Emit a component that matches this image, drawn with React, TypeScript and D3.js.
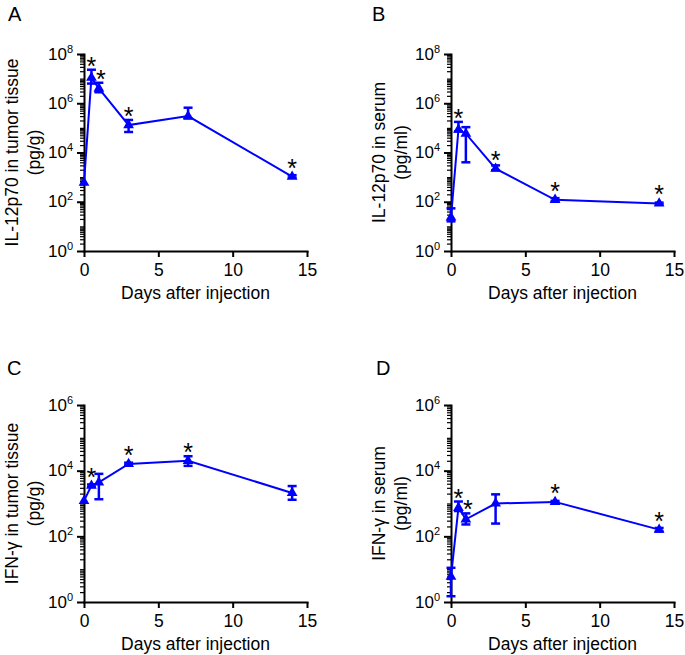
import React, { useRef, useEffect } from 'react';
import * as d3 from 'd3';

// sampling days (x values shared by all four panels)
const days = [0, 0.5, 1, 3, 7, 14];
const xTicks = [0, 5, 10, 15];

// A: IL-12p70 in tumor tissue (pg/g)
const il12TumorMean = [600, 1.1e7, 4.0e6, 1.3e5, 3.0e5, 1.05e3];
const il12TumorHi = [600, 2.3e7, 6.8e6, 2.1e5, 6.6e5, 1.2e3];
const il12TumorLo = [600, 6.3e6, 2.8e6, 6.8e4, 2.4e5, 0.95e3];
const il12TumorSig = [false, true, true, true, false, true];

// B: IL-12p70 in serum (pg/ml)
const il12SerumMean = [23, 8.5e4, 5.8e4, 2.2e3, 120, 85];
const il12SerumHi = [54, 1.75e5, 1.07e5, 3.0e3, 140, 92];
const il12SerumLo = [16, 7.2e4, 4.0e3, 1.9e3, 105, 78];
const il12SerumSig = [false, true, false, true, true, true];

// C: IFN-γ in tumor tissue (pg/g)
const ifnTumorMean = [1.2e3, 3.5e3, 4.4e3, 1.6e4, 2.0e4, 2.1e3];
const ifnTumorHi = [1.2e3, 3.8e3, 8.0e3, 1.75e4, 2.75e4, 3.4e3];
const ifnTumorLo = [1.2e3, 3.2e3, 1.35e3, 1.45e4, 1.4e4, 1.3e3];
const ifnTumorSig = [false, true, false, true, true, false];

// D: IFN-γ in serum (pg/ml)
const ifnSerumMean = [5.9, 740, 330, 1000, 1120, 160];
const ifnSerumHi = [11, 1150, 500, 1900, 1200, 180];
const ifnSerumLo = [1.5, 590, 230, 245, 1050, 140];
const ifnSerumSig = [false, true, true, false, true, true];

const panels = [
  { letter: 'A', title: ['IL-12p70 in tumor tissue', '(pg/g)'], mean: il12TumorMean, hi: il12TumorHi, lo: il12TumorLo, sig: il12TumorSig, maxExp: 8, left: 84, top: 54, lx: 8, ly: 21 },
  { letter: 'B', title: ['IL-12p70 in serum', '(pg/ml)'], mean: il12SerumMean, hi: il12SerumHi, lo: il12SerumLo, sig: il12SerumSig, maxExp: 8, left: 451, top: 54, lx: 372, ly: 21 },
  { letter: 'C', title: ['IFN-γ in tumor tissue', '(pg/g)'], mean: ifnTumorMean, hi: ifnTumorHi, lo: ifnTumorLo, sig: ifnTumorSig, maxExp: 6, left: 84, top: 405, lx: 7, ly: 375 },
  { letter: 'D', title: ['IFN-γ in serum', '(pg/ml)'], mean: ifnSerumMean, hi: ifnSerumHi, lo: ifnSerumLo, sig: ifnSerumSig, maxExp: 6, left: 451, top: 405, lx: 376, ly: 375 },
];

const W = 223;
const H = 197;
const BLUE = '#0000ff';
const FONT = '"Liberation Sans", Arial, Helvetica, sans-serif';

const App: React.FC = () => {
  const svgRef = useRef<SVGSVGElement | null>(null);

  useEffect(() => {
    if (!svgRef.current) return;
    const svg = d3.select(svgRef.current);
    svg.selectAll('*').remove();

    panels.forEach((p) => {
      // panel letter
      svg.append('text')
        .attr('x', p.lx)
        .attr('y', p.ly)
        .attr('font-family', FONT)
        .attr('font-size', '20px')
        .attr('fill', '#000')
        .text(p.letter);

      const g = svg.append('g').attr('transform', `translate(${p.left},${p.top})`);

      const x = d3.scaleLinear().domain([0, 15]).range([0, W]);
      const y = d3.scaleLog().domain([1, Math.pow(10, p.maxExp)]).range([H, 0]);

      // minor log ticks
      const minor: number[] = [];
      for (let e = 0; e < p.maxExp; e++) {
        for (let m = 1; m <= 9; m++) {
          if (m === 1 && e % 2 === 0) continue;
          minor.push(m * Math.pow(10, e));
        }
      }
      const majors = d3.range(0, p.maxExp + 1, 2).map((e) => Math.pow(10, e));

      g.append('g')
        .call(d3.axisLeft(y).tickValues(minor).tickSize(4).tickFormat(() => ''))
        .call((s) => s.select('.domain').remove())
        .call((s) => s.selectAll('line').attr('stroke-width', 1.2));

      g.append('g')
        .call(d3.axisLeft(y).tickValues(majors).tickSize(7).tickSizeOuter(0).tickFormat(() => ''))
        .call((s) => s.select('.domain').attr('stroke-width', 2).attr('stroke-linecap', 'square'))
        .call((s) => s.selectAll('line').attr('stroke-width', 2));

      // y tick labels 10^n
      majors.forEach((v) => {
        const t = g.append('text')
          .attr('x', -11)
          .attr('y', y(v) + 5.5)
          .attr('text-anchor', 'end')
          .attr('font-family', FONT)
          .attr('font-size', '17px')
          .attr('fill', '#000');
        t.append('tspan').text('10');
        t.append('tspan')
          .attr('font-size', '11px')
          .attr('dy', -7)
          .text(String(Math.round(Math.log10(v))));
      });

      // x axis
      g.append('g')
        .attr('transform', `translate(0,${H})`)
        .call(d3.axisBottom(x).tickValues(xTicks).tickSize(6).tickSizeOuter(0).tickPadding(7))
        .call((s) => s.select('.domain').attr('stroke-width', 2).attr('stroke-linecap', 'square'))
        .call((s) => s.selectAll('line').attr('stroke-width', 2))
        .call((s) => s.selectAll('text')
          .attr('font-family', FONT)
          .attr('font-size', '17.5px')
          .attr('fill', '#000'));

      // axis titles
      g.append('text')
        .attr('x', W / 2)
        .attr('y', H + 48)
        .attr('text-anchor', 'middle')
        .attr('font-family', FONT)
        .attr('font-size', '17.5px')
        .attr('fill', '#000')
        .text('Days after injection');

      p.title.forEach((line, i) => {
        g.append('text')
          .attr('transform', `translate(${i === 0 ? -66 : -44},${H / 2}) rotate(-90)`)
          .attr('text-anchor', 'middle')
          .attr('font-family', FONT)
          .attr('font-size', '17.5px')
          .attr('fill', '#000')
          .text(line);
      });

      // data line
      const line = d3.line<number>()
        .x((_, i) => x(days[i]))
        .y((d) => y(d));
      g.append('path')
        .datum(p.mean)
        .attr('d', line)
        .attr('fill', 'none')
        .attr('stroke', BLUE)
        .attr('stroke-width', 2);

      // error bars
      p.mean.forEach((m, i) => {
        const hi = p.hi[i];
        const lo = p.lo[i];
        if (hi === m && lo === m) return;
        const cx = x(days[i]);
        g.append('line')
          .attr('x1', cx).attr('x2', cx)
          .attr('y1', y(hi)).attr('y2', y(lo))
          .attr('stroke', BLUE).attr('stroke-width', 2.5);
        [hi, lo].forEach((v) => {
          g.append('line')
            .attr('x1', cx - 4.5).attr('x2', cx + 4.5)
            .attr('y1', y(v)).attr('y2', y(v))
            .attr('stroke', BLUE).attr('stroke-width', 2.5);
        });
      });

      // markers
      const tri = d3.symbol().type(d3.symbolTriangle).size(50);
      p.mean.forEach((m, i) => {
        g.append('path')
          .attr('d', tri() as string)
          .attr('transform', `translate(${x(days[i])},${y(m)})`)
          .attr('fill', BLUE);
      });

      // significance asterisks
      p.sig.forEach((s, i) => {
        if (!s) return;
        const top = Math.min(y(p.hi[i]), y(p.mean[i]) - 5);
        g.append('text')
          .attr('x', x(days[i]) + (days[i] === 1 ? 2 : 0))
          .attr('y', top + 5)
          .attr('text-anchor', 'middle')
          .attr('font-family', FONT)
          .attr('font-size', '25px')
          .attr('fill', '#000')
          .text('*');
      });
    });
  }, []);

  return (
    <div style={{ position: 'absolute', left: 0, top: 0 }}>
      <svg ref={svgRef} width={685} height={655} style={{ display: 'block', background: '#fff' }} />
    </div>
  );
};

export default App;
